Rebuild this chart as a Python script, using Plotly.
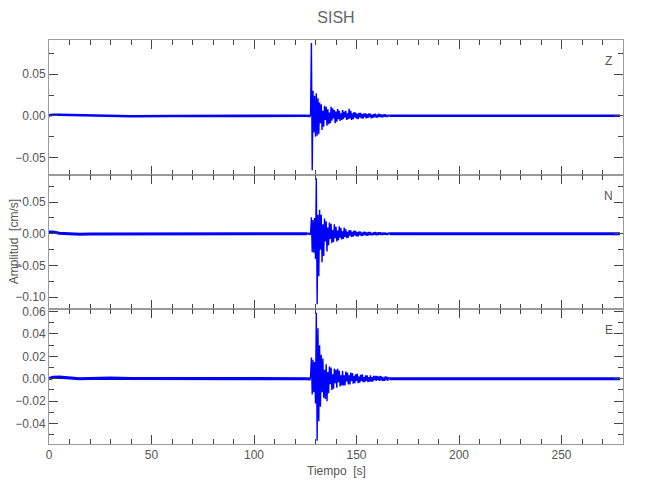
import plotly.graph_objects as go
from plotly.subplots import make_subplots

# ---------------- data ----------------
components = ["Z", "N", "E"]

# quiet background (pre-event and post-event), time in s, amplitude in cm/s
t_pre = [0, 2, 5, 10, 15, 20, 30, 40, 60, 80, 100, 115, 126]
t_post = [166, 180, 200, 220, 240, 260, 278.5]

Z_pre = [0.0005, 0.0012, 0.0012, 0.0010, 0.0004, 0.0, -0.0004, -0.0005, -0.0003, -0.0002, -0.0004, -0.0002, 0.0]
N_pre = [0.0030, 0.0028, 0.0010, 0.0, -0.0005, -0.0003, -0.0002, 0.0, -0.0003, 0.0, 0.0, 0.0, 0.0]
E_pre = [0.0, 0.0012, 0.0015, 0.0008, 0.0, 0.0002, 0.0006, 0.0002, 0.0, 0.0004, 0.0, 0.0, 0.0]
Z_post = [0.0, 0.0, 0.0, 0.0, 0.0, 0.0, 0.0]
N_post = [0.0, 0.0, 0.0, 0.0, 0.0, 0.0, 0.0]
E_post = [0.0, 0.0, 0.0, 0.0, 0.0, 0.0, 0.0]

# event window, sampled every 0.4 s starting at 126.0 s
burst_start = 126.0
burst_dt = 0.4
Z_burst = [
    0.0010, -0.0015, 0.0012, -0.0014, 0.0015,
    0.0875, -0.0655, 0.0300, -0.0200, 0.0240, -0.0250, 0.0270, -0.0240, 0.0210, -0.0220,
    0.0160, -0.0090, 0.0140, -0.0170, 0.0060, -0.0130, 0.0120, -0.0050, 0.0110, -0.0120,
    0.0080, -0.0100, 0.0040, -0.0090, 0.0110, -0.0060, 0.0090, -0.0030, 0.0070, -0.0090,
    0.0050, -0.0070, 0.0080, -0.0040, 0.0060, -0.0060, 0.0030, -0.0050, 0.0070, -0.0040,
    0.0050, -0.0020, 0.0060, -0.0050, 0.0030, -0.0040, 0.0085, -0.0030, 0.0060, -0.0050,
    0.0030, -0.0040, 0.0045, -0.0020, 0.0040, -0.0035, 0.0025, -0.0040, 0.0035, -0.0020,
    0.0035, -0.0030, 0.0020, -0.0035, 0.0030, -0.0015, 0.0030, -0.0030, 0.0020, -0.0025,
    0.0030, -0.0015, 0.0025, -0.0030, 0.0015, -0.0025, 0.0020, -0.0015, 0.0025, -0.0020,
    0.0015, -0.0020, 0.0025, -0.0012, 0.0020, -0.0018, 0.0012, -0.0018, 0.0018, -0.0010,
    0.0018, -0.0015, 0.0010, -0.0015, 0.0012, 0.0000,
]
N_burst = [
    -0.0010, 0.0015, -0.0012, 0.0014, -0.0015,
    0.0260, -0.0290, 0.0220, -0.0300, 0.0250, -0.0400, 0.0880, -0.1115, 0.0300, -0.0670,
    0.0380, -0.0250, 0.0300, -0.0450, 0.0150, -0.0350, 0.0240, -0.0120, 0.0200, -0.0280,
    0.0100, -0.0180, 0.0180, -0.0080, 0.0160, -0.0150, 0.0060, -0.0130, 0.0150, -0.0070,
    0.0110, -0.0120, 0.0050, -0.0100, 0.0120, -0.0060, 0.0090, -0.0090, 0.0040, -0.0080,
    0.0100, -0.0050, 0.0070, -0.0070, 0.0030, -0.0060, 0.0060, -0.0030, 0.0055, -0.0050,
    0.0030, -0.0045, 0.0050, -0.0025, 0.0045, -0.0040, 0.0025, -0.0040, 0.0040, -0.0020,
    0.0035, -0.0035, 0.0020, -0.0030, 0.0035, -0.0020, 0.0030, -0.0030, 0.0020, -0.0030,
    0.0030, -0.0020, 0.0030, -0.0025, 0.0015, -0.0025, 0.0025, -0.0015, 0.0030, -0.0025,
    0.0020, -0.0025, 0.0025, -0.0015, 0.0025, -0.0020, 0.0015, -0.0020, 0.0020, -0.0015,
    0.0020, -0.0020, 0.0012, -0.0018, 0.0018, 0.0000,
]
E_burst = [
    0.0010, -0.0015, 0.0012, -0.0014, 0.0015,
    0.0190, -0.0140, 0.0170, -0.0120, 0.0150, -0.0220, 0.0590, -0.0555, 0.0450, -0.0380,
    0.0300, -0.0250, 0.0215, -0.0120, 0.0180, -0.0170, 0.0080, -0.0180, 0.0130, -0.0200,
    0.0060, -0.0130, 0.0110, -0.0050, 0.0100, -0.0100, 0.0040, -0.0090, 0.0090, -0.0040,
    0.0080, -0.0080, 0.0090, -0.0030, 0.0070, -0.0070, 0.0030, -0.0060, 0.0070, -0.0060,
    0.0030, -0.0060, 0.0065, -0.0025, 0.0055, -0.0050, 0.0030, -0.0050, 0.0055, -0.0020,
    0.0050, -0.0045, 0.0025, -0.0040, 0.0040, -0.0020, 0.0045, -0.0040, 0.0020, -0.0035,
    0.0035, -0.0020, 0.0040, -0.0030, 0.0015, -0.0030, 0.0030, -0.0020, 0.0030, -0.0030,
    0.0015, -0.0025, 0.0030, -0.0025, 0.0015, -0.0025, 0.0025, -0.0012, 0.0025, -0.0020,
    0.0025, -0.0012, 0.0020, -0.0020, 0.0025, -0.0015, 0.0020, -0.0020, 0.0012, -0.0018,
    0.0020, -0.0012, 0.0018, -0.0018, 0.0012, 0.0000,
]

y_ranges = [[-0.0707, 0.0911], [-0.1194, 0.0935], [-0.0583, 0.0620]]
y_dticks = [0.05, 0.05, 0.02]
y_minor = [0.025, 0.025, 0.01]
x_range = [0, 280]

# ---------------- figure ----------------
FONT = "Liberation Sans, Arial, sans-serif"
BLUE = "rgb(0,0,255)"
LINE = "#9a9a9a"
TICK = "#444444"
TXT = "#555555"

pre = [Z_pre, N_pre, E_pre]
post = [Z_post, N_post, E_post]
burst = [Z_burst, N_burst, E_burst]
base_w = [2.6, 3.0, 3.2]

fig = make_subplots(rows=3, cols=1, shared_xaxes=True, vertical_spacing=0)

for r in range(3):
    tb = [burst_start + burst_dt * i for i in range(len(burst[r]))]
    for tx, vy, w in ((t_pre, pre[r], base_w[r]), (t_post, post[r], base_w[r]), (tb, burst[r], 1.4)):
        fig.add_trace(
            go.Scatter(x=tx, y=vy, mode="lines", line=dict(color=BLUE, width=w),
                       showlegend=False, hoverinfo="skip"),
            row=r + 1, col=1,
        )

for r in range(3):
    fig.update_yaxes(
        range=y_ranges[r], dtick=y_dticks[r], tick0=0, tickformat=".2f",
        showline=True, linecolor=LINE, linewidth=1, mirror="ticks",
        ticks="inside", ticklen=9, tickwidth=1, tickcolor=TICK,
        minor=dict(ticks="inside", ticklen=5, dtick=y_minor[r], tick0=0, tickcolor=TICK),
        showgrid=False, zeroline=False, automargin=False,
        tickfont=dict(family=FONT, size=12, color=TXT),
        row=r + 1, col=1,
    )
    fig.update_xaxes(
        range=x_range, dtick=50, tick0=0,
        showline=True, linecolor=LINE, linewidth=1, mirror="ticks",
        ticks="inside", ticklen=9, tickwidth=1, tickcolor=TICK,
        minor=dict(ticks="inside", ticklen=5, dtick=10, tick0=0, tickcolor=TICK),
        showgrid=False, zeroline=False, automargin=False,
        tickfont=dict(family=FONT, size=12, color=TXT),
        row=r + 1, col=1,
    )

# component labels
for r, name in enumerate(components):
    ax = "" if r == 0 else str(r + 1)
    fig.add_annotation(text=name, xref=f"x{ax} domain", yref=f"y{ax} domain",
                       x=0.975, y=0.845, xanchor="center", yanchor="middle",
                       showarrow=False, font=dict(family=FONT, size=12, color=TXT))

fig.add_annotation(text="Amplitud  [cm/s]", xref="paper", yref="paper",
                   x=-0.0605, y=0.5, textangle=-90, xanchor="center", yanchor="middle",
                   showarrow=False, font=dict(family=FONT, size=12, color=TXT))

fig.add_annotation(text="Tiempo  [s]", xref="paper", yref="paper",
                   x=0.5, y=-0.067, xanchor="center", yanchor="middle",
                   showarrow=False, font=dict(family=FONT, size=12, color=TXT))

# page body has an 8 px margin, so the figure is sized to fit the 650x500 window
W, H = 642, 492
fig.update_layout(
    width=W, height=H,
    margin=dict(l=41, r=27, t=32, b=56),
    paper_bgcolor="white", plot_bgcolor="white",
    title=dict(text="SISH", x=0.5, xref="paper", xanchor="center",
               y=1 - 9 / H, yref="container", yanchor="middle",
               font=dict(family=FONT, size=16, color="#666666")),
    showlegend=False,
)

fig.write_html("out.html")
